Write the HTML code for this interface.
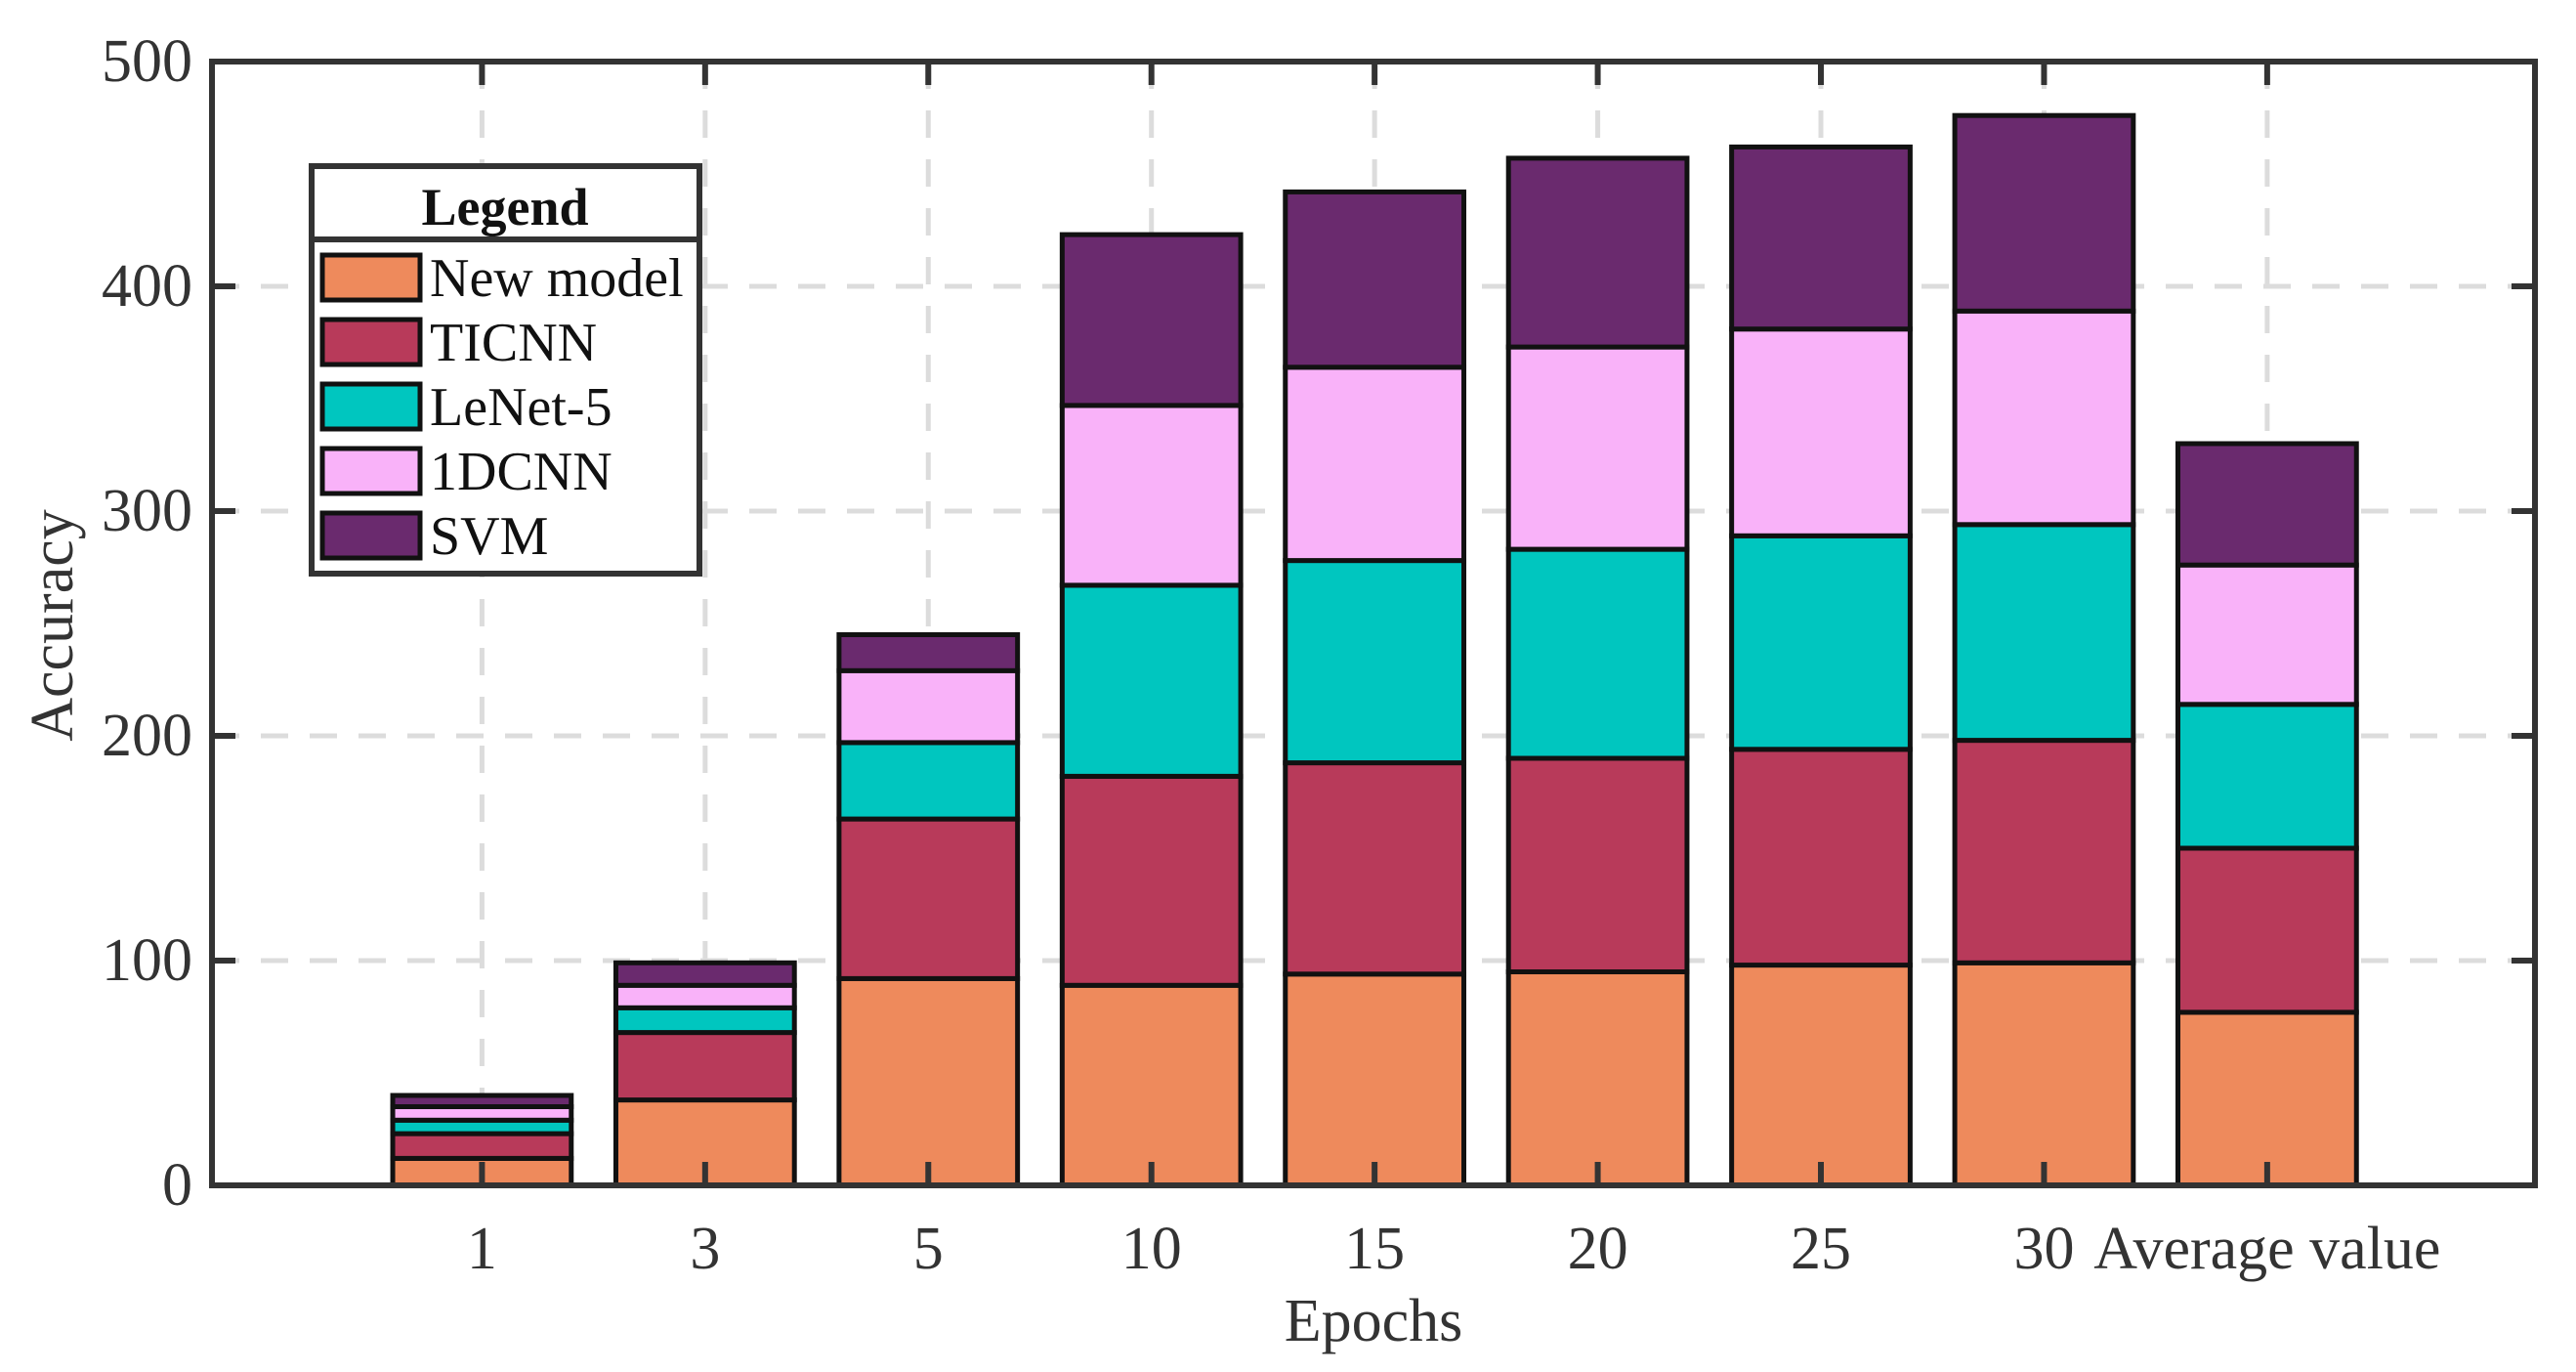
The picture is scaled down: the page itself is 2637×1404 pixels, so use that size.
<!DOCTYPE html>
<html><head><meta charset="utf-8"><style>
html,body{margin:0;padding:0;background:#fff;}
svg{display:block;font-family:"Liberation Serif",serif;}
</style></head><body>
<svg id="chart" width="2637" height="1404" viewBox="0 0 2637 1404" xmlns="http://www.w3.org/2000/svg">
<g id="grid"></g>
<g id="bars"></g>
<g id="axes"></g>
<g id="legend"></g>
</svg>
<script>
const categories = ["1","3","5","10","15","20","25","30","Average value"];
const seriesNames = ["New model","TICNN","LeNet-5","1DCNN","SVM"];
const newModel = [12,38,92,89,94,95,98,99,77];
const ticnn    = [11,30,71,93,94,95,96,99,73];
const lenet5   = [6,11,34,85,90,93,95,96,64];
const cnn1d    = [6,10,32,80,86,90,92,95,62];
const svm      = [5,10,16,76,78,84,81,87,54];
const yTicks = [0,100,200,300,400,500];
const colors = ["#EE8A5C","#B83A5A","#00C6BF","#F9B2F9","#6A2A6E"];

const NS="http://www.w3.org/2000/svg";
const L=217,R=2595,T=63,B=1213;
const xMin=-0.21,xMax=10.2,yMax=500;
function xs(i){return L+(i+1-xMin)/(xMax-xMin)*(R-L);}
function ys(v){return B-v/yMax*(B-T);}
function mk(tag,attrs,parent){const e=document.createElementNS(NS,tag);for(const k in attrs)e.setAttribute(k,attrs[k]);parent.appendChild(e);return e;}
const grid=document.getElementById('grid'),bars=document.getElementById('bars'),axes=document.getElementById('axes'),legend=document.getElementById('legend');

yTicks.forEach(t=>{
  if(t>0&&t<yMax){
    const g=mk('line',{x1:L,x2:R,y1:ys(t),y2:ys(t),stroke:'#dcdcdc','stroke-width':5,'stroke-dasharray':'28,22'},grid);
    
    
  }
});
categories.forEach((c,i)=>{
  const g=mk('line',{x1:xs(i),x2:xs(i),y1:T,y2:B,stroke:'#dcdcdc','stroke-width':5,'stroke-dasharray':'28,22'},grid);
  
  
});

const series=[newModel,ticnn,lenet5,cnn1d,svm];
const bw=0.8*(R-L)/(xMax-xMin);
categories.forEach((c,i)=>{
  let cum=0;
  series.forEach((s,k)=>{
    const y0=ys(cum),y1=ys(cum+s[i]);cum+=s[i];
    const r=mk('rect',{x:xs(i)-bw/2,y:y1,width:bw,height:y0-y1,fill:colors[k],stroke:'#111','stroke-width':5},bars);
    
    
  });
});

// frame
const fr=mk('rect',{x:L,y:T,width:R-L,height:B-T,fill:'none',stroke:'#333','stroke-width':6},axes);


yTicks.forEach(t=>{
  const y=ys(t);
  const a=mk('line',{x1:L,x2:L+24,y1:y,y2:y,stroke:'#333','stroke-width':6},axes);
  
  
  const b=mk('line',{x1:R-24,x2:R,y1:y,y2:y,stroke:'#333','stroke-width':6},axes);
  
  
  const tx=mk('text',{x:L-20,y:y+20,'text-anchor':'end','font-size':62,fill:'#333'},axes);
  tx.textContent=t;
  
  
});
categories.forEach((c,i)=>{
  const x=xs(i);
  const a=mk('line',{x1:x,x2:x,y1:B,y2:B-24,stroke:'#333','stroke-width':6},axes);
  
  
  const b=mk('line',{x1:x,x2:x,y1:T,y2:T+24,stroke:'#333','stroke-width':6},axes);
  
  
  const tx=mk('text',{x:x,y:1298,'text-anchor':'middle','font-size':62,fill:'#333'},axes);
  tx.textContent=c;
  
  
});
const xl=mk('text',{x:1406,y:1372,'text-anchor':'middle','font-size':62,fill:'#333'},axes);
xl.textContent='Epochs';


const yl=mk('text',{x:0,y:0,'text-anchor':'middle','font-size':62,fill:'#333',transform:'translate(74,640) rotate(-90)'},axes);
yl.textContent='Accuracy';



// legend
const lb=mk('rect',{x:319,y:170,width:397,height:417,fill:'#fff',stroke:'#333','stroke-width':6},legend);


const ld=mk('line',{x1:319,x2:716,y1:245,y2:245,stroke:'#333','stroke-width':6},legend);


const lt=mk('text',{x:517,y:230,'text-anchor':'middle','font-size':54,'font-weight':'bold',fill:'#111'},legend);
lt.textContent='Legend';


seriesNames.forEach((n,k)=>{
  const cy=284+k*66;
  const s=mk('rect',{x:330,y:cy-23,width:100,height:46,fill:colors[k],stroke:'#111','stroke-width':5},legend);
  
  
  const t=mk('text',{x:440,y:cy+19,'font-size':56,fill:'#111'},legend);
  t.textContent=n;
  
  
});
</script>
</body></html>
